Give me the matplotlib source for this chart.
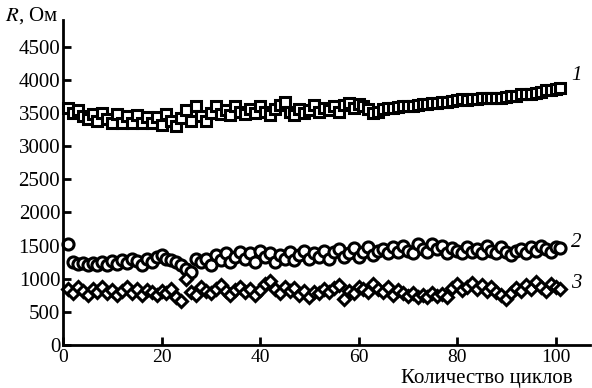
# Resistance vs number of cycles, three samples (1 - squares, 2 - circles, 3 - diamonds)
import numpy as np
import matplotlib
matplotlib.use("Agg")
import matplotlib.pyplot as plt

plt.rcParams['font.family'] = ['Liberation Serif', 'DejaVu Serif']
plt.rcParams['mathtext.fontset'] = 'stix'

cycles = np.arange(1, 102)

r_sample1 = [3580, 3500, 3540, 3450, 3400, 3480, 3380, 3500, 3400, 3350,
             3480, 3350, 3460, 3350, 3470, 3340, 3440, 3350, 3430, 3320,
             3480, 3380, 3300, 3420, 3540, 3380, 3600, 3450, 3380, 3500,
             3600, 3480, 3550, 3470, 3600, 3520, 3480, 3560, 3500, 3600,
             3520, 3470, 3560, 3620, 3660, 3520, 3470, 3560, 3500, 3550,
             3620, 3520, 3580, 3540, 3600, 3520, 3620, 3650, 3580, 3640,
             3600, 3560, 3500, 3520, 3560, 3570, 3580, 3590, 3600, 3600,
             3610, 3620, 3630, 3640, 3650, 3650, 3660, 3670, 3680, 3700,
             3710, 3700, 3710, 3710, 3720, 3720, 3720, 3730, 3720, 3740,
             3750, 3760, 3780, 3790, 3790, 3800, 3820, 3840, 3850, 3860,
             3880]

r_sample2 = [1520, 1250, 1220, 1230, 1200, 1240, 1210, 1250, 1200, 1260,
             1220, 1280, 1230, 1300, 1260, 1200, 1300, 1250, 1320, 1350,
             1300, 1280, 1250, 1200, 1150, 1100, 1300, 1250, 1300, 1200,
             1350, 1280, 1380, 1250, 1320, 1400, 1300, 1380, 1250, 1420,
             1330, 1380, 1250, 1350, 1300, 1400, 1280, 1360, 1420, 1300,
             1380, 1330, 1420, 1300, 1400, 1450, 1320, 1380, 1460, 1330,
             1400, 1480, 1350, 1420, 1450, 1380, 1480, 1400, 1500, 1420,
             1380, 1520, 1450, 1400, 1530, 1440, 1500, 1380, 1460, 1420,
             1380, 1480, 1400, 1450, 1380, 1500, 1420, 1380, 1480, 1400,
             1360, 1420, 1450, 1380, 1480, 1420, 1500, 1450, 1400, 1480,
             1460]

r_sample3 = [850, 780, 880, 820, 760, 850, 800, 870, 780, 830,
             760, 820, 870, 790, 840, 760, 830, 800, 760, 820,
             780, 850, 730, 660, 990, 800, 760, 880, 820, 780,
             850, 900, 820, 760, 830, 880, 800, 850, 760, 830,
             920, 960, 850, 780, 880, 820, 860, 760, 820, 720,
             800, 780, 840, 800, 860, 900, 700, 820, 780, 880,
             840, 800, 920, 850, 800, 880, 760, 830, 780, 740,
             780, 720, 760, 730, 780, 740, 770, 720, 860, 920,
             830, 880, 940, 850, 900, 820, 870, 800, 760, 700,
             780, 860, 820, 900, 850, 950, 880, 820, 920, 870,
             840]

curve_labels = ['1', '2', '3']

fig = plt.figure(figsize=(5.92, 3.88), dpi=100)
ax = fig.add_axes([63 / 592, 43 / 388, 527 / 592, 325 / 388])

style = dict(linestyle='none', markerfacecolor='white', markeredgecolor='black',
             markeredgewidth=2.2, clip_on=False)
ax.plot(cycles, r_sample1, marker='s', markersize=7.5, **style)
ax.plot(cycles, r_sample2, marker='o', markersize=8, **style)
ax.plot(cycles, r_sample3, marker='D', markersize=6.5, **style)

# curve numbers at the right end
label_y = [4070, 1550, 930]
for lab, yy in zip(curve_labels, label_y):
    ax.text(104.2, yy, lab, fontsize=15, style='italic', ha='center', va='center')

ax.set_xlim(0, 107)
ax.set_ylim(0, 4900)
ax.set_xticks([0, 20, 40, 60, 80, 100])
ax.set_yticks(np.arange(0, 4501, 500))

ax.spines['top'].set_visible(False)
ax.spines['right'].set_visible(False)
ax.spines['left'].set_linewidth(2)
ax.spines['bottom'].set_linewidth(2)
ax.tick_params(direction='in', length=6, width=2, labelsize=15)
ax.tick_params(axis='y', pad=2)
ax.tick_params(axis='x', pad=3, labelsize=14)

fig.text(487 / 592, 1 - 379 / 388, 'Количество циклов', fontsize=15, ha='center', va='center')
fig.text(5 / 592, 1 - 16 / 388, '$R$, Ом', fontsize=15, ha='left', va='center')

plt.savefig('out.png', dpi=100)
plt.close()
